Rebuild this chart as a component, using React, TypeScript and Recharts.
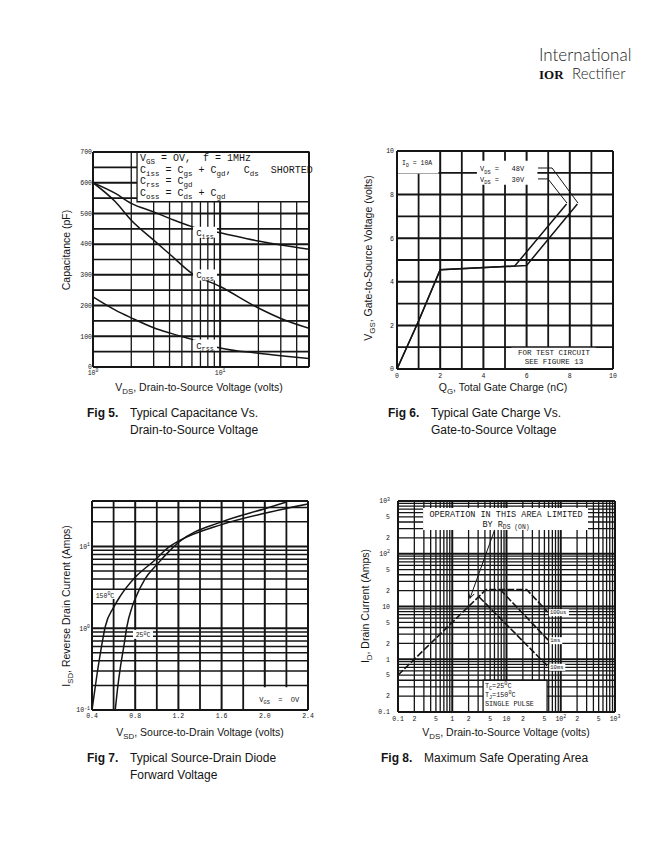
import React from 'react';
import { LineChart, Line, XAxis, YAxis, ReferenceLine, ReferenceArea, ReferenceDot } from 'recharts';

const INK = '#151515';
const MONO = '"Liberation Mono", "DejaVu Sans Mono", monospace';
const SANS = '"Liberation Sans", Arial, Helvetica, sans-serif';

// ---------- Fig 5: capacitance vs VDS ----------
const capGridX = [1, 2, 3, 4, 5, 6, 7, 8, 9, 10, 20, 30, 40, 50];
const capGridY = [0, 50, 100, 150, 200, 250, 300, 350, 400, 450, 500, 550, 600, 650, 700];
const capTicksX = [1, 10];
const capTickLabelsX = ['10^0', '10^1'];
const capTicksY = [0, 100, 200, 300, 400, 500, 600, 700];
const ciss = [
  { x: 1, y: 600 }, { x: 1.5, y: 565 }, { x: 2, y: 533 }, { x: 3, y: 505 }, { x: 4, y: 484 },
  { x: 6, y: 457 }, { x: 10, y: 437 }, { x: 20, y: 410 }, { x: 30, y: 397 }, { x: 50, y: 383 },
];
const coss = [
  { x: 1, y: 600 }, { x: 1.5, y: 538 }, { x: 2, y: 478 }, { x: 3, y: 413 }, { x: 4, y: 368 },
  { x: 6, y: 305 }, { x: 10, y: 262 }, { x: 20, y: 192 }, { x: 30, y: 158 }, { x: 50, y: 126 },
];
const crss = [
  { x: 1, y: 228 }, { x: 1.5, y: 185 }, { x: 2, y: 160 }, { x: 3, y: 128 }, { x: 4, y: 111 },
  { x: 6, y: 90 }, { x: 10, y: 62 }, { x: 20, y: 45 }, { x: 30, y: 37 }, { x: 50, y: 28 },
];

// ---------- Fig 6: gate charge ----------
const qgGrid = [0, 1, 2, 3, 4, 5, 6, 7, 8, 9, 10];
const qgTicks = [0, 2, 4, 6, 8, 10];
const vgs30 = [{ x: 0, y: 0 }, { x: 1, y: 2.2 }, { x: 2, y: 4.55 }, { x: 5.45, y: 4.72 }, { x: 7.85, y: 7.57 }];
const vgs48 = [{ x: 0, y: 0 }, { x: 1, y: 2.2 }, { x: 2, y: 4.55 }, { x: 6.0, y: 4.75 }, { x: 8.35, y: 7.57 }];
const lead48 = [{ x: 6.53, y: 9.22 }, { x: 7.18, y: 9.22 }, { x: 8.38, y: 7.61 }];
const lead30 = [{ x: 6.53, y: 8.72 }, { x: 6.99, y: 8.72 }, { x: 7.87, y: 7.61 }];

// ---------- Fig 7: diode forward voltage ----------
const vsdGrid = [0.4, 0.6, 0.8, 1.0, 1.2, 1.4, 1.6, 1.8, 2.0, 2.2, 2.4];
const vsdTicks = [0.4, 0.8, 1.2, 1.6, 2.0, 2.4];
const vsdTickLabels = ['0.4', '0.8', '1.2', '1.6', '2.0', '2.4'];
const isdGrid = [0.1, 0.2, 0.3, 0.4, 0.5, 0.6, 0.7, 0.8, 0.9, 1, 2, 3, 4, 5, 6, 7, 8, 9, 10, 20, 30];
const isdTicks = [0.1, 1, 10];
const isdTickLabels = ['10^-1', '10^0', '10^1'];
const diode150 = [
  { x: 0.4, y: 0.1 }, { x: 0.446, y: 0.27 }, { x: 0.492, y: 0.64 }, { x: 0.523, y: 1.05 }, { x: 0.6, y: 1.8 },
  { x: 0.66, y: 2.45 }, { x: 0.8, y: 4.2 }, { x: 0.97, y: 6.6 }, { x: 1.12, y: 10 }, { x: 1.2, y: 11.6 },
  { x: 1.6, y: 18.5 }, { x: 2.0, y: 25.5 }, { x: 2.4, y: 33 },
];
const diode25 = [
  { x: 0.615, y: 0.1 }, { x: 0.636, y: 0.18 }, { x: 0.661, y: 0.32 }, { x: 0.698, y: 0.64 }, { x: 0.723, y: 1.05 },
  { x: 0.77, y: 1.8 }, { x: 0.8, y: 2.3 }, { x: 0.89, y: 4.0 }, { x: 1.0, y: 6.0 }, { x: 1.12, y: 8.9 },
  { x: 1.2, y: 11.2 }, { x: 1.6, y: 20 }, { x: 2.0, y: 29 }, { x: 2.2, y: 35 },
];

// ---------- Fig 8: safe operating area ----------
const soaGrid = [
  0.1, 0.2, 0.3, 0.4, 0.5, 0.6, 0.7, 0.8, 0.9, 1, 2, 3, 4, 5, 6, 7, 8, 9,
  10, 20, 30, 40, 50, 60, 70, 80, 90, 100, 200, 300, 400, 500, 600, 700, 800, 900, 1000,
];
const soaDecades = [0.1, 1, 10, 100, 1000];
const soaTicks = [0.1, 0.2, 0.5, 1, 2, 5, 10, 20, 50, 100, 200, 500, 1000];
const soaTickLabelsX = ['0.1', '2', '5', '1', '2', '5', '10', '2', '5', '10^2', '2', '5', '10^3'];
const soaTickLabelsY = ['0.1', '2', '5', '1', '2', '5', '10', '2', '5', '10^2', '2', '5', '10^3'];
const soa100us = [{ x: 0.1, y: 0.5 }, { x: 4.2, y: 21 }, { x: 23.5, y: 21 }, { x: 58, y: 7.8 }];
const soa1ms = [{ x: 7.6, y: 21 }, { x: 59, y: 2.3 }];
const soa10ms = [{ x: 3.1, y: 15.3 }, { x: 59, y: 0.72 }];
const rdsArrow = [{ x: 6.1, y: 290 }, { x: 2.12, y: 14.3 }];
const rdsHead = [{ x: 2.54, y: 17.3 }, { x: 2.12, y: 14.3 }, { x: 2.0, y: 18.6 }];

// ---------- layout helpers ----------
const YW = 40;
const XH = 24;
const MT = 4;
const MR = 8;

type Seg = [string] | [string, 'sub' | 'sup'];

function Rich({ x, y, segs, size, anchor = 'start', family = MONO, weight = 'normal' }: {
  x: number; y: number; segs: Seg[]; size: number; anchor?: 'start' | 'middle' | 'end'; family?: string; weight?: string;
}) {
  let cur = 0;
  return (
    <text x={x} y={y} fontSize={size} fontFamily={family} fontWeight={weight} textAnchor={anchor} fill={INK} style={{ whiteSpace: 'pre' }}>
      {segs.map(([t, k], i) => {
        const target = k === 'sub' ? size * 0.32 : k === 'sup' ? -size * 0.4 : 0;
        const dy = target - cur;
        cur = target;
        return (
          <tspan key={i} dy={dy} fontSize={k ? size * 0.75 : size}>
            {t}
          </tspan>
        );
      })}
    </text>
  );
}

const parseSup = (s: string): Seg[] => {
  const [b, sup] = s.split('^');
  return sup ? [[b], [sup, 'sup']] : [[b]];
};

const xTick = (ticks: number[], labels: string[], dy = 9) => (p: any) => {
  const i = ticks.findIndex((t) => Math.abs(t - p.payload.value) < 1e-9);
  if (i < 0) return <g />;
  return <Rich x={p.x} y={p.y + dy} segs={parseSup(labels[i])} size={6.5} anchor="middle" />;
};
const yTick = (ticks: number[], labels: string[], dx = -2) => (p: any) => {
  const i = ticks.findIndex((t) => Math.abs(t - p.payload.value) < 1e-9);
  if (i < 0) return <g />;
  return <Rich x={p.x + dx} y={p.y + 2.3} segs={parseSup(labels[i])} size={6.5} anchor="end" />;
};

// grid drawn as two-point series so every value goes through the axis scale
const gridLine = (key: string, pts: { x: number; y: number }[], width: number) => (
  <Line
    key={key}
    data={pts}
    dataKey="y"
    type="linear"
    stroke={INK}
    strokeWidth={width}
    dot={false}
    activeDot={false}
    isAnimationActive={false}
    legendType="none"
    zIndex={50}
  />
);
const vGrid = (vals: number[], yd: number[], w: (v: number) => number) =>
  vals.map((v) => gridLine(`gv${v}`, [{ x: v, y: yd[0] }, { x: v, y: yd[1] }], w(v)));
const hGrid = (vals: number[], xd: number[], w: (v: number) => number) =>
  vals.map((v) => gridLine(`gh${v}`, [{ x: xd[0], y: v }, { x: xd[1], y: v }], w(v)));
const border = (xd: number[], yd: number[]) => [
  <ReferenceLine key="bx0" x={xd[0]} stroke={INK} strokeWidth={2} zIndex={460} />,
  <ReferenceLine key="bx1" x={xd[1]} stroke={INK} strokeWidth={2} zIndex={460} />,
  <ReferenceLine key="by0" y={yd[0]} stroke={INK} strokeWidth={2} zIndex={460} />,
  <ReferenceLine key="by1" y={yd[1]} stroke={INK} strokeWidth={2} zIndex={460} />,
];

interface NoteSpec {
  lines: Seg[][];
  size: number;
  dx?: number;
  dy?: number;
  lineH?: number;
  anchor?: 'start' | 'middle' | 'end';
  bg?: { x: number; y: number; w: number; h: number };
}
const note = (n: NoteSpec) => (p: any) => (
  <g>
    {n.bg && <rect x={p.cx + n.bg.x} y={p.cy + n.bg.y} width={n.bg.w} height={n.bg.h} fill="#fff" />}
    {n.lines.map((segs, i) => (
      <Rich key={i} x={p.cx + (n.dx ?? 0)} y={p.cy + (n.dy ?? 0) + i * (n.lineH ?? 10)} segs={segs} size={n.size} anchor={n.anchor ?? 'start'} />
    ))}
  </g>
);

function Frame({ left, top, w, h, children }: { left: number; top: number; w: number; h: number; children: React.ReactNode }) {
  return (
    <div style={{ position: 'absolute', left: left - YW, top: top - MT }}>
      <LineChart width={YW + w + MR} height={MT + h + XH} margin={{ top: MT, right: MR, bottom: 0, left: 0 }}>
        {children}
      </LineChart>
    </div>
  );
}

const curve = (data: { x: number; y: number }[], key: string, type: 'monotone' | 'linear' = 'monotone', dash?: string, width = 1.5) => (
  <Line
    key={key}
    data={data}
    dataKey="y"
    type={type}
    stroke={INK}
    strokeWidth={width}
    strokeDasharray={dash}
    dot={false}
    activeDot={false}
    isAnimationActive={false}
    zIndex={400}
  />
);

const whiteBox = (key: string, x1: number, x2: number, y1: number, y2: number, stroke?: string) => (
  <ReferenceArea key={key} x1={x1} x2={x2} y1={y1} y2={y2} fill="#fff" fillOpacity={1} stroke={stroke ?? 'none'} strokeWidth={1.3} zIndex={450} />
);

const axisCommon = { tickSize: 0, tickMargin: 0, axisLine: false, tickLine: false, interval: 0 as const, allowDataOverflow: true };

// ---------- charts ----------
function CapacitanceChart() {
  const xd = [1, 50];
  const yd = [0, 700];
  return (
    <Frame left={93} top={152} w={216} h={215}>
      <XAxis type="number" dataKey="x" scale="log" domain={xd} ticks={capTicksX}
        tick={xTick(capTicksX, capTickLabelsX, 8)} height={XH} {...axisCommon} />
      <YAxis type="number" domain={yd} ticks={capTicksY}
        tick={yTick(capTicksY, capTicksY.map(String), -1)} width={YW} {...axisCommon} />
      {vGrid(capGridX, yd, (v) => (v === 1 || v === 10 ? 2 : 1.3))}
      {hGrid(capGridY, xd, (v) => (v % 100 === 0 ? 2 : 1.7))}
      {curve(ciss, 'ciss')}
      {curve(coss, 'coss')}
      {curve(crss, 'crss')}
      {whiteBox('legend', 2.22, 50, 538, 700, INK)}
      {border(xd, yd)}
      <ReferenceDot x={2.22} y={700} r={1} zIndex={600} shape={note({
        size: 10, dx: 3, dy: 9, lineH: 11.6,
        lines: [
          [['V'], ['GS', 'sub'], [' = OV,  f = 1MHz']],
          [['C'], ['iss', 'sub'], [' = C'], ['gs', 'sub'], [' + C'], ['gd', 'sub'], [',  C'], ['ds', 'sub'], ['  SHORTED']],
          [['C'], ['rss', 'sub'], [' = C'], ['gd', 'sub']],
          [['C'], ['oss', 'sub'], [' = C'], ['ds', 'sub'], [' + C'], ['gd', 'sub']],
        ],
      })} />
      <ReferenceDot x={7.6} y={437} r={1} zIndex={600} shape={note({ size: 9, anchor: 'middle', dy: 3, bg: { x: -12, y: -6, w: 24, h: 11 }, lines: [[['C'], ['iss', 'sub']]] })} />
      <ReferenceDot x={7.6} y={298} r={1} zIndex={600} shape={note({ size: 9, anchor: 'middle', dy: 3, bg: { x: -12, y: -6, w: 24, h: 11 }, lines: [[['C'], ['oss', 'sub']]] })} />
      <ReferenceDot x={7.6} y={70} r={1} zIndex={600} shape={note({ size: 9, anchor: 'middle', dy: 3, bg: { x: -12, y: -6, w: 24, h: 11 }, lines: [[['C'], ['rss', 'sub']]] })} />
    </Frame>
  );
}

function GateChargeChart() {
  const d = [0, 10];
  return (
    <Frame left={397} top={151} w={216} h={218}>
      <XAxis type="number" dataKey="x" domain={d} ticks={qgTicks}
        tick={xTick(qgTicks, qgTicks.map(String), 9)} height={XH} {...axisCommon} />
      <YAxis type="number" domain={d} ticks={qgTicks}
        tick={yTick(qgTicks, qgTicks.map(String), -3)} width={YW} {...axisCommon} />
      {vGrid(qgGrid, d, (v) => (v % 2 === 0 ? 2 : 1.8))}
      {hGrid(qgGrid, d, (v) => (v % 2 === 0 ? 2 : 1.8))}
      {curve(vgs30, 'v30', 'linear')}
      {curve(vgs48, 'v48', 'linear')}
      {curve(lead48, 'l48', 'linear', undefined, 1)}
      {curve(lead30, 'l30', 'linear', undefined, 1)}
      {whiteBox('id', 0, 1.92, 8.97, 10)}
      {whiteBox('vds', 3.7, 6.5, 8.45, 9.55)}
      {whiteBox('test', 5.3, 9.2, 0, 0.97)}
      {border(d, d)}
      <ReferenceDot x={0} y={10} r={1} zIndex={600} shape={note({ size: 6.5, dx: 5, dy: 14, lines: [[['I'], ['D', 'sub'], [' = 10A']]] })} />
      <ReferenceDot x={3.8} y={9.5} r={1} zIndex={600} shape={note({
        size: 7, dx: 1, dy: 9.5, lineH: 10.5,
        lines: [[['V'], ['DS', 'sub'], [' =   48V']], [['V'], ['DS', 'sub'], [' =   30V']]],
      })} />
      <ReferenceDot x={7.27} y={0} r={1} zIndex={600} shape={note({
        size: 7.5, anchor: 'middle', dy: -14.5, lineH: 9.5,
        lines: [[['FOR TEST CIRCUIT']], [['SEE FIGURE 13']]],
      })} />
    </Frame>
  );
}

function DiodeChart() {
  const xd = [0.4, 2.4];
  const yd = [0.1, 36];
  return (
    <Frame left={92} top={501} w={216} h={209}>
      <XAxis type="number" dataKey="x" domain={xd} ticks={vsdTicks}
        tick={xTick(vsdTicks, vsdTickLabels, 8)} height={XH} {...axisCommon} />
      <YAxis type="number" scale="log" domain={yd} ticks={isdTicks}
        tick={yTick(isdTicks, isdTickLabels, -2)} width={YW} {...axisCommon} />
      {vGrid(vsdGrid, yd, (v) => (vsdTicks.includes(v) ? 2 : 1.8))}
      {hGrid(isdGrid, xd, (v) => (isdTicks.includes(v) ? 2 : 1.5))}
      {curve(diode150, 'd150')}
      {curve(diode25, 'd25')}
      {whiteBox('vgs', 1.92, 2.4, 0.1, 0.19)}
      {border(xd, yd)}
      <ReferenceDot x={0.52} y={2.55} r={1} zIndex={600} shape={note({ size: 6.5, anchor: 'middle', dy: 2.5, bg: { x: -11, y: -5, w: 22, h: 9 }, lines: [[['150'], ['0', 'sup'], ['C']]] })} />
      <ReferenceDot x={0.872} y={0.83} r={1} zIndex={600} shape={note({ size: 6.5, anchor: 'middle', dy: 2.5, bg: { x: -10, y: -5, w: 20, h: 9 }, lines: [[['25'], ['0', 'sup'], ['C']]] })} />
      <ReferenceDot x={1.94} y={0.134} r={1} zIndex={600} shape={note({ size: 7, dx: 1, dy: 2.5, lines: [[['V'], ['GS', 'sub'], ['  =  OV']]] })} />
    </Frame>
  );
}

function SoaChart() {
  const d = [0.1, 1000];
  const w = (v: number) => (soaDecades.includes(v) ? 2 : 1.3);
  return (
    <Frame left={398} top={501} w={217} h={211}>
      <XAxis type="number" dataKey="x" scale="log" domain={d} ticks={soaTicks}
        tick={xTick(soaTicks, soaTickLabelsX, 9)} height={XH} {...axisCommon} />
      <YAxis type="number" scale="log" domain={d} ticks={soaTicks}
        tick={yTick(soaTicks, soaTickLabelsY, -8)} width={YW} {...axisCommon} />
      {vGrid(soaGrid, d, w)}
      {hGrid(soaGrid, d, w)}
      {curve(soa100us, 's100', 'linear', '7 2', 1.6)}
      {curve(soa1ms, 's1', 'linear', '7 2', 1.6)}
      {curve(soa10ms, 's10', 'linear', '7 2', 1.6)}
      {whiteBox('op', 0.29, 318, 282, 736)}
      {whiteBox('tc', 3.7, 56, 0.1, 0.4, INK)}
      {curve(rdsArrow, 'arr', 'linear', undefined, 1)}
      {curve(rdsHead, 'head', 'linear', undefined, 1)}
      {border(d, d)}
      <ReferenceDot x={9.8} y={508} r={1} zIndex={600} shape={note({
        size: 8.5, anchor: 'middle', dy: 0, lineH: 10,
        lines: [[['OPERATION IN THIS AREA LIMITED']], [['BY R'], ['DS (ON)', 'sub']]],
      })} />
      <ReferenceDot x={4.0} y={0.26} r={1} zIndex={600} shape={note({
        size: 6.8, dx: 0, dy: -2, lineH: 8.8,
        lines: [[['T'], ['C', 'sub'], ['=25'], ['0', 'sup'], ['C']], [['T'], ['J', 'sub'], ['=150'], ['0', 'sup'], ['C']], [['SINGLE PULSE']]],
      })} />
      <ReferenceDot x={58} y={7.8} r={1} zIndex={600} shape={note({ size: 5.5, dx: 2, dy: 2, bg: { x: 1, y: -3, w: 20, h: 7 }, lines: [[['100us']]] })} />
      <ReferenceDot x={59} y={2.3} r={1} zIndex={600} shape={note({ size: 5.5, dx: 2, dy: 2, bg: { x: 1, y: -3, w: 13, h: 7 }, lines: [[['1ms']]] })} />
      <ReferenceDot x={59} y={0.72} r={1} zIndex={600} shape={note({ size: 5.5, dx: 2, dy: 2, bg: { x: 1, y: -3, w: 16, h: 7 }, lines: [[['10ms']]] })} />
    </Frame>
  );
}

const Title = ({ x, y, segs, rotate }: { x: number; y: number; segs: Seg[]; rotate?: boolean }) =>
  rotate ? (
    <g transform={`translate(${x},${y}) rotate(-90)`}>
      <Rich x={0} y={3.5} segs={segs} size={10.5} family={SANS} anchor="middle" />
    </g>
  ) : (
    <Rich x={x} y={y} segs={segs} size={10.5} family={SANS} anchor="middle" />
  );

const Caption = ({ x, y, fig, lines }: { x: number; y: number; fig: string; lines: string[] }) => (
  <g>
    <Rich x={x} y={y} segs={[[fig]]} size={12} family={SANS} weight="bold" />
    {lines.map((l, i) => (
      <Rich key={i} x={x + 43} y={y + i * 17} segs={[[l]]} size={12} family={SANS} />
    ))}
  </g>
);

export default function App() {
  return (
    <div style={{ position: 'absolute', left: 0, top: 0, width: 672, height: 864, background: '#fff', overflow: 'hidden' }}>
      <CapacitanceChart />
      <GateChargeChart />
      <DiodeChart />
      <SoaChart />
      <svg width={672} height={864} style={{ position: 'absolute', left: 0, top: 0, pointerEvents: 'none' }}>
        <text x={539} y={61} fontSize={17} fontFamily="Lato, 'Liberation Sans', sans-serif" fontWeight={300} fill="#222">International</text>
        <text x={539} y={79} fontSize={13} fontFamily="'Liberation Serif', serif" fontWeight="bold" fill="#111">IOR</text>
        <text x={572} y={79} fontSize={15} fontFamily="Lato, 'Liberation Sans', sans-serif" fontWeight={300} fill="#222">Rectifier</text>

        <Title x={66} y={250} rotate segs={[['Capacitance (pF)']]} />
        <Title x={199} y={391} segs={[['V'], ['DS', 'sub'], [', Drain-to-Source Voltage (volts)']]} />
        <Title x={368} y={258} rotate segs={[['V'], ['GS', 'sub'], [', Gate-to-Source Voltage (volts)']]} />
        <Title x={503} y={391} segs={[['Q'], ['G', 'sub'], [', Total Gate Charge (nC)']]} />
        <Title x={66} y={606} rotate segs={[['I'], ['SD', 'sub'], [', Reverse Drain Current (Amps)']]} />
        <Title x={200} y={736} segs={[['V'], ['SD', 'sub'], [', Source-to-Drain Voltage (volts)']]} />
        <Title x={365} y={606} rotate segs={[['I'], ['D', 'sub'], [', Drain Current (Amps)']]} />
        <Title x={506} y={736} segs={[['V'], ['DS', 'sub'], [', Drain-to-Source Voltage (volts)']]} />

        <Caption x={87} y={417} fig="Fig 5." lines={['Typical Capacitance Vs.', 'Drain-to-Source Voltage']} />
        <Caption x={388} y={417} fig="Fig 6." lines={['Typical Gate Charge Vs.', 'Gate-to-Source Voltage']} />
        <Caption x={87} y={762} fig="Fig 7." lines={['Typical Source-Drain Diode', 'Forward Voltage']} />
        <Caption x={381} y={762} fig="Fig 8." lines={['Maximum Safe Operating Area']} />
      </svg>
    </div>
  );
}
